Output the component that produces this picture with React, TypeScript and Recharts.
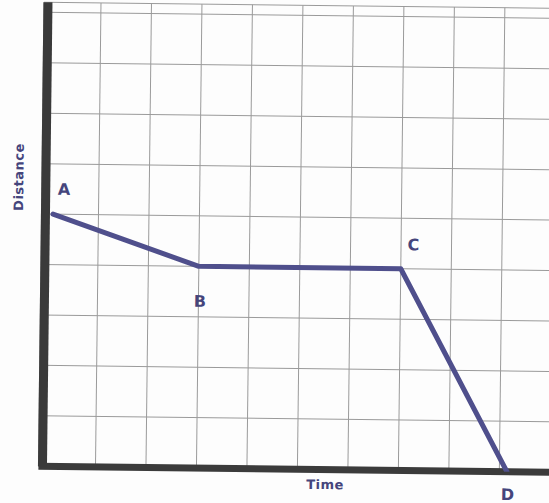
import React from "react";
import { LineChart, Line, XAxis, YAxis, CartesianGrid, ReferenceLine } from "recharts";

// Data (grid units)
const times = [0.1, 3, 7, 9.15];
const distances = [5, 4, 4, 0];
const pointLabels = ["A", "B", "C", "D"];
const xGridTicks = [1, 2, 3, 4, 5, 6, 7, 8, 9, 10];
const yGridTicks = [1, 2, 3, 4, 5, 6, 7, 8, 9];
const xAxisTitle = "Time";
const yAxisTitle = "Distance";

const data = times.map((t, i) => ({ t, d: distances[i], name: pointLabels[i] }));

const labelOffsets = [
  { dx: 10.7, dy: -25 },
  { dx: 1.6, dy: 35 },
  { dx: 12.4, dy: -24 },
  { dx: 0.8, dy: 22.7 },
];

const INK = "#4f4f8c";
const LABEL_INK = "#45457c";

const PointLabel = (props: any) => {
  const { x, y, index } = props;
  const off = labelOffsets[index] || { dx: 0, dy: 0 };
  return (
    <text
      x={x + off.dx}
      y={y + off.dy}
      textAnchor="middle"
      dominantBaseline="central"
      fill={LABEL_INK}
      fontFamily="DejaVu Sans, sans-serif"
      fontWeight="bold"
      fontSize={16}
    >
      {pointLabels[index]}
    </text>
  );
};

export default function App() {
  return (
    <div
      style={{
        position: "absolute",
        left: 0,
        top: 0,
        width: 549,
        height: 503,
        overflow: "hidden",
        background: "#fdfdfd",
      }}
    >
      <div
        style={{
          position: "absolute",
          left: 0,
          top: 0,
          width: 560,
          height: 503,
          transform: "rotate(0.68deg)",
          transformOrigin: "274.5px 251.5px",
        }}
      >
        <LineChart
          width={560}
          height={503}
          data={data}
          margin={{ top: 5, right: 0, bottom: 34, left: 41 }}
        >
          <CartesianGrid stroke="#9a9a9a" strokeWidth={1} />
          <XAxis
            type="number"
            dataKey="t"
            domain={[-0.13, 10.15]}
            ticks={xGridTicks}
            allowDataOverflow
            hide
          />
          <YAxis
            type="number"
            domain={[0, 9.2]}
            ticks={yGridTicks}
            allowDataOverflow
            hide
          />
          <ReferenceLine y={0} stroke="#3b3b3b" strokeWidth={7} />
          <ReferenceLine x={-0.05} stroke="#3a3a3a" strokeWidth={9} />
          <Line
            type="linear"
            dataKey="d"
            stroke={INK}
            strokeWidth={5}
            strokeLinejoin="round"
            strokeLinecap="round"
            dot={false}
            isAnimationActive={false}
            label={<PointLabel />}
          />
        </LineChart>
        <div
          style={{
            position: "absolute",
            left: 17.6,
            top: 179.5,
            transform: "translate(-50%, -50%) rotate(-90deg)",
            fontFamily: "DejaVu Sans, sans-serif",
            fontWeight: "bold",
            fontSize: 13,
            letterSpacing: 0.5,
            color: LABEL_INK,
            whiteSpace: "nowrap",
            lineHeight: 1,
          }}
        >
          {yAxisTitle}
        </div>
        <div
          style={{
            position: "absolute",
            left: 327.8,
            top: 484.4,
            transform: "translate(-50%, -50%)",
            fontFamily: "DejaVu Sans, sans-serif",
            fontWeight: "bold",
            fontSize: 13,
            letterSpacing: 0.5,
            color: LABEL_INK,
            whiteSpace: "nowrap",
            lineHeight: 1,
          }}
        >
          {xAxisTitle}
        </div>
      </div>
    </div>
  );
}
